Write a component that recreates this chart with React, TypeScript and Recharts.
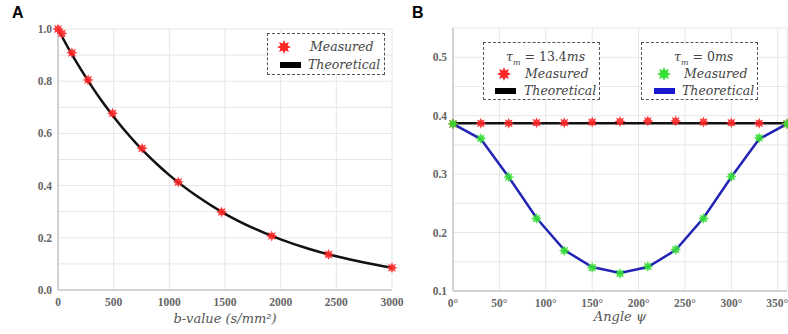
import React from "react";
import {
  CartesianGrid,
  ComposedChart,
  Line,
  Scatter,
  XAxis,
  YAxis,
} from "recharts";

// Panel A: signal decay vs b-value
const A_MEASURED_B = [0, 35, 125, 270, 490, 755, 1080, 1470, 1920, 2430, 3000];
const A_MEASURED_S = [1.0, 0.983, 0.909, 0.805, 0.677, 0.543, 0.414, 0.299, 0.207, 0.136, 0.085];
const A_THEORY_B = [0, 100, 200, 300, 400, 500, 600, 700, 800, 900, 1000, 1250, 1500, 1750, 2000, 2250, 2500, 2750, 3000];
const A_THEORY_S = [1.0, 0.921, 0.849, 0.782, 0.72, 0.664, 0.611, 0.563, 0.519, 0.478, 0.44, 0.359, 0.292, 0.238, 0.194, 0.158, 0.129, 0.105, 0.085];
const A_X_TICKS = [0, 500, 1000, 1500, 2000, 2500, 3000];
const A_Y_TICKS = [0, 0.1, 0.2, 0.3, 0.4, 0.5, 0.6, 0.7, 0.8, 0.9, 1.0];

// Panel B: signal vs angle psi
const B_ANGLES = [0, 30, 60, 90, 120, 150, 180, 210, 240, 270, 300, 330, 360];
const B_RED_MEASURED = [0.386, 0.387, 0.387, 0.388, 0.388, 0.389, 0.390, 0.391, 0.391, 0.389, 0.388, 0.387, 0.386];
const B_BLACK_THEORY = [0.387, 0.387, 0.387, 0.387, 0.387, 0.387, 0.387, 0.387, 0.387, 0.387, 0.387, 0.387, 0.387];
const B_GREEN_MEASURED = [0.386, 0.361, 0.295, 0.224, 0.169, 0.140, 0.130, 0.142, 0.171, 0.224, 0.296, 0.362, 0.386];
const B_BLUE_THEORY = [0.386, 0.360, 0.295, 0.225, 0.170, 0.141, 0.131, 0.141, 0.170, 0.225, 0.295, 0.360, 0.386];
const B_X_TICKS = [0, 50, 100, 150, 200, 250, 300, 350];
const B_Y_TICKS = [0.1, 0.15, 0.2, 0.25, 0.3, 0.35, 0.4, 0.45, 0.5, 0.55];

const RED = "#ff2626";
const GREEN = "#35e035";
const BLUE = "#2323b4";
const GRID = "#e6e6e6";
const AXIS = "#b4b4b4";
const TICK = "#666666";
const SERIF = "'DejaVu Serif', serif";

const tickStyle = { fill: TICK, fontSize: 11.5, fontWeight: 700, fontFamily: "'Liberation Serif', serif" };
const titleStyle = { fill: "#555", fontSize: 13, fontStyle: "italic", fontFamily: SERIF };

const zip = (xs: number[], ys: number[]) => xs.map((x, i) => ({ x, y: ys[i] }));

const aMeasured = zip(A_MEASURED_B, A_MEASURED_S);
const aTheory = zip(A_THEORY_B, A_THEORY_S);
const bRed = zip(B_ANGLES, B_RED_MEASURED);
const bBlack = zip(B_ANGLES, B_BLACK_THEORY);
const bGreen = zip(B_ANGLES, B_GREEN_MEASURED);
const bBlue = zip(B_ANGLES, B_BLUE_THEORY);

function starPoints(cx: number, cy: number, r: number) {
  const pts: string[] = [];
  for (let i = 0; i < 16; i++) {
    const a = (Math.PI * i) / 8 - Math.PI / 2;
    const rr = i % 2 === 0 ? r : r * 0.55;
    pts.push(`${cx + rr * Math.cos(a)},${cy + rr * Math.sin(a)}`);
  }
  return pts.join(" ");
}

const starShape = (fill: string) => (props: any) => (
  <polygon points={starPoints(props.cx, props.cy, 5.5)} fill={fill} fillOpacity={0.9} />
);

function LegendStar({ x, y, fill }: { x: number; y: number; fill: string }) {
  return (
    <svg width={16} height={16} style={{ position: "absolute", left: x - 8, top: y - 8 }}>
      <polygon points={starPoints(8, 8, 7)} fill={fill} />
    </svg>
  );
}

function Swatch({ x, y, color }: { x: number; y: number; color: string }) {
  return <div style={{ position: "absolute", left: x, top: y - 3, width: 21, height: 6, background: color }} />;
}

function LegendText({ x, y, children }: { x: number; y: number; children: React.ReactNode }) {
  return (
    <div style={{ position: "absolute", left: x, top: y - 8, lineHeight: "16px", whiteSpace: "nowrap" }}>
      {children}
    </div>
  );
}

const boxStyle = (left: number, top: number, width: number, height: number): React.CSSProperties => ({
  position: "absolute",
  left,
  top,
  width,
  height,
  boxSizing: "border-box",
  border: "1.5px dashed #555",
  background: "#fff",
  fontFamily: SERIF,
  fontStyle: "italic",
  fontSize: 12.5,
  color: "#444",
});

function TauTitle({ value }: { value: string }) {
  return (
    <span>
      τ<sub style={{ fontSize: 8, fontStyle: "italic" }}>m</sub>
      <span style={{ fontStyle: "normal" }}> = {value}</span>ms
    </span>
  );
}

function PanelA() {
  return (
    <div style={{ position: "absolute", left: 0, top: 0, width: 410, height: 334 }}>
      <ComposedChart width={410} height={334} margin={{ top: 29, right: 18, bottom: 4, left: 8 }}>
        <CartesianGrid stroke={GRID} />
        <XAxis
          dataKey="x"
          type="number"
          domain={[0, 3000]}
          ticks={A_X_TICKS}
          stroke={AXIS}
          tickLine={false}
          tickSize={0}
          tickMargin={8}
          tick={tickStyle}
          height={40}
          label={{ value: "b-value (s/mm²)", position: "insideBottom", offset: 7, style: titleStyle }}
        />
        <XAxis xAxisId="top" orientation="top" dataKey="x" type="number" domain={[0, 3000]} tick={false} tickLine={false} stroke={AXIS} height={0} />
        <YAxis
          dataKey="y"
          type="number"
          domain={[0, 1]}
          ticks={A_Y_TICKS}
          stroke={AXIS}
          tickLine={false}
          tickSize={0}
          tickMargin={6}
          width={50}
          tick={tickStyle}
          tickFormatter={(v: number) => (Math.round(v * 10) % 2 === 0 ? v.toFixed(1) : "")}
        />
        <YAxis yAxisId="right" orientation="right" tick={false} tickLine={false} stroke={AXIS} width={0} />
        <Line data={aTheory} dataKey="y" type="monotone" stroke="#111" strokeWidth={2.5} dot={false} isAnimationActive={false} />
        <Scatter data={aMeasured} dataKey="y" shape={starShape(RED)} isAnimationActive={false} />
      </ComposedChart>
      <div style={boxStyle(267, 33, 118, 42)}>
        <LegendStar x={16} y={13} fill={RED} />
        <LegendText x={42} y={13}>Measured</LegendText>
        <Swatch x={12} y={31} color="#000" />
        <LegendText x={40} y={31}>Theoretical</LegendText>
      </div>
      <div style={{ position: "absolute", left: 12, top: 4, fontFamily: "'Liberation Sans', sans-serif", fontWeight: 700, fontSize: 16 }}>A</div>
    </div>
  );
}

function PanelB() {
  return (
    <div style={{ position: "absolute", left: 400, top: 0, width: 388, height: 334 }}>
      <ComposedChart width={388} height={334} margin={{ top: 28, right: 1, bottom: 3, left: 8 }}>
        <CartesianGrid stroke={GRID} />
        <XAxis
          dataKey="x"
          type="number"
          domain={[0, 360]}
          ticks={B_X_TICKS}
          stroke={AXIS}
          tickLine={false}
          tickSize={0}
          tickMargin={8}
          tick={tickStyle}
          tickFormatter={(v: number) => `${v}°`}
          height={40}
          label={{ value: "Angle ψ", position: "insideBottom", offset: 10, style: titleStyle }}
        />
        <XAxis xAxisId="top" orientation="top" dataKey="x" type="number" domain={[0, 360]} tick={false} tickLine={false} stroke={AXIS} height={0} />
        <YAxis
          dataKey="y"
          type="number"
          domain={[0.1, 0.55]}
          ticks={B_Y_TICKS}
          stroke={AXIS}
          tickLine={false}
          tickSize={0}
          tickMargin={6}
          width={45}
          tick={tickStyle}
          tickFormatter={(v: number) => (Math.round(v * 100) % 10 === 0 ? v.toFixed(1) : "")}
        />
        <YAxis yAxisId="right" orientation="right" tick={false} tickLine={false} stroke={AXIS} width={0} />
        <Line data={bBlue} dataKey="y" type="linear" stroke={BLUE} strokeWidth={2.5} dot={false} isAnimationActive={false} />
        <Scatter data={bRed} dataKey="y" shape={starShape(RED)} isAnimationActive={false} />
        <Line data={bBlack} dataKey="y" type="linear" stroke="#111" strokeWidth={2.5} dot={false} isAnimationActive={false} />
        <Scatter data={bGreen} dataKey="y" shape={starShape(GREEN)} isAnimationActive={false} />
      </ComposedChart>
      <div style={boxStyle(83, 42, 117, 58)}>
        <LegendText x={22} y={14}><TauTitle value="13.4" /></LegendText>
        <LegendStar x={20} y={31} fill={RED} />
        <LegendText x={41} y={31}>Measured</LegendText>
        <Swatch x={11} y={48} color="#000" />
        <LegendText x={40} y={48}>Theoretical</LegendText>
      </div>
      <div style={boxStyle(241, 42, 117, 58)}>
        <LegendText x={32} y={14}><TauTitle value="0" /></LegendText>
        <LegendStar x={22} y={31} fill={GREEN} />
        <LegendText x={42} y={31}>Measured</LegendText>
        <Swatch x={12} y={48} color="#1818cc" />
        <LegendText x={40} y={48}>Theoretical</LegendText>
      </div>
      <div style={{ position: "absolute", left: 12, top: 4, fontFamily: "'Liberation Sans', sans-serif", fontWeight: 700, fontSize: 16 }}>B</div>
    </div>
  );
}

export default function App() {
  return (
    <div style={{ position: "absolute", left: 0, top: 0, width: 788, height: 334, background: "#fff" }}>
      <PanelA />
      <PanelB />
    </div>
  );
}
